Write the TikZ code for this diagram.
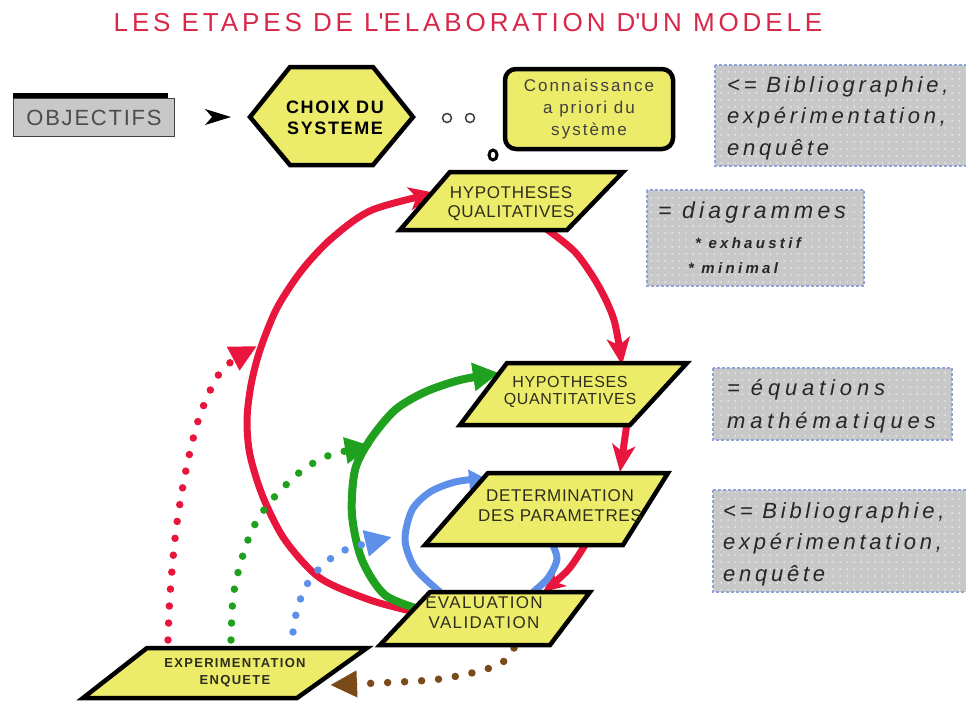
\documentclass[tikz,border=0pt]{standalone}
\usepackage{fontspec}
\setmainfont{Liberation Sans}
\usetikzlibrary{arrows.meta,patterns}
\definecolor{ttl}{HTML}{D8284A}
\definecolor{rline}{HTML}{E8163C}
\definecolor{gline}{HTML}{1FA01F}
\definecolor{bline}{HTML}{5E90EA}
\definecolor{brline}{HTML}{7A4A18}
\definecolor{ylw}{HTML}{ECEC6A}
\definecolor{gry}{HTML}{C8C8C8}
\definecolor{gbd}{HTML}{8DA3DA}
\definecolor{dtxt}{HTML}{2E2E1E}
\pgfdeclarepatternformonly{wdots}{\pgfqpoint{-1pt}{-1pt}}{\pgfqpoint{1pt}{1pt}}{\pgfqpoint{7pt}{7pt}}{\pgfpathcircle{\pgfpointorigin}{0.75pt}\pgfusepath{fill}}
\begin{document}
\begin{tikzpicture}[x=1pt,y=-1pt,
  para/.style={fill=ylw,draw=black,line width=4.5pt,line join=miter},
  ptext/.style={align=center,inner sep=0pt,text=dtxt},
  gbox/.style={preaction={fill=gry},preaction={pattern=wdots,pattern color=white},draw=gbd,line width=1.2pt,densely dashed},
  gtext/.style={anchor=base west,inner sep=0pt,text=black!85,font=\fontsize{22}{26}\selectfont\itshape\addfontfeatures{LetterSpace=17}},
  gsmall/.style={anchor=base west,inner sep=0pt,text=black!85,font=\fontsize{15}{16}\selectfont\bfseries\itshape\addfontfeatures{LetterSpace=22}},
  solidln/.style={line width=7pt},
  dotln/.style={line width=7.5pt,line cap=round,dash pattern=on 0pt off 17pt},
  dtip/.style={-{Triangle[length=27pt,width=25pt]}},
  stip/.style={-{Stealth[length=27pt,width=23pt,inset=7pt]}},
]
\useasboundingbox (0,0) rectangle (966,702);
\fill[white] (0,0) rectangle (966,702);

% title
\node[text=ttl,inner sep=0pt,font=\fontsize{26}{30}\selectfont\addfontfeatures{LetterSpace=15}] (title) at (468,23) {LES ETAPES DE L\textquotesingle ELABORATION D\textquotesingle UN MODELE};

% objectifs
\fill[black] (13,93) rectangle (168,99);
\node[draw=black!75,line width=1pt,fill=gry,minimum width=161pt,minimum height=38pt,inner sep=0pt,
      text=black!70,font=\fontsize{22}{26}\selectfont\addfontfeatures{LetterSpace=8}] (obj) at (94,117.5) {OBJECTIFS};
\fill[black] (205,109) -- (231,117) -- (205,125) -- (212,117) -- cycle;

% choix du systeme
\draw[para] (250,117) -- (290,67) -- (373,67) -- (413,117) -- (373,165) -- (290,165) -- cycle;
\node[ptext,text=black,font=\fontsize{18}{21}\selectfont\bfseries\addfontfeatures{LetterSpace=9}] (choix) at (335,118) {CHOIX DU\\SYSTEME};

% bubbles
\draw[line width=1.5pt,black!75] (447,118) circle (4.5pt);
\draw[line width=1.5pt,black!75] (470,118) circle (4.5pt);
\draw[line width=3pt,black] (493,155) ellipse (4pt and 5pt);

% connaissance
\node[draw=black,line width=4.5pt,rounded corners=11pt,fill=ylw,minimum width=168pt,minimum height=80pt,
      align=center,inner sep=0pt,text=black!75,font=\fontsize{17}{22}\selectfont\addfontfeatures{LetterSpace=12}] (conn) at (589,109) {Connaissance\\a priori du\\système};

% grey boxes
\draw[gbox] (715,65) rectangle (970,166);
\node[gtext] (g1a) at (727,92) {<= Bibliographie,};
\node[gtext] (g1b) at (727,123.5) {expérimentation,};
\node[gtext] (g1c) at (727,155) {enquête};

\draw[gbox] (647,190) rectangle (864,286);
\node[gtext,font=\fontsize{23}{26}\selectfont\itshape\addfontfeatures{LetterSpace=18}] (g2a) at (658,218) {= diagrammes};
\node[gsmall] (g2b) at (695,248) {* exhaustif};
\node[gsmall] (g2c) at (688,273) {* minimal};

\draw[gbox] (713,368) rectangle (952,440);
\node[gtext,font=\fontsize{22}{26}\selectfont\itshape\addfontfeatures{LetterSpace=22}] (g3a) at (727,395) {= équations};
\node[gtext,font=\fontsize{22}{26}\selectfont\itshape\addfontfeatures{LetterSpace=22}] (g3b) at (727,428) {mathématiques};

\draw[gbox] (713,490) rectangle (970,592);
\node[gtext] (g4a) at (723,518) {<= Bibliographie,};
\node[gtext] (g4b) at (723,549.5) {expérimentation,};
\node[gtext] (g4c) at (723,581) {enquête};

% endpoints
\coordinate (evW) at (415,612);
\coordinate (hqlW) at (436,193);
\coordinate (hqlS) at (545,228);
\coordinate (hqnN) at (622,365);
\coordinate (hqnS) at (627,423);
\coordinate (detN) at (620,472);
\coordinate (detS) at (585,545);
\coordinate (evN) at (543,592);
\coordinate (evG) at (422,610);
\coordinate (hqnW) at (499,373);
\coordinate (evB) at (440,592);
\coordinate (detW) at (485,478);
\coordinate (detSb) at (548,535);
\coordinate (evNb) at (533,592);
\coordinate (exR) at (168,640);
\coordinate (exG) at (231,640);
\coordinate (exB) at (293,632);
\coordinate (redT) at (257,346);
\coordinate (grnT) at (372,446);
\coordinate (bluT) at (392,537);
\coordinate (evS) at (514,648);
\coordinate (exE) at (330,685);

% connectors
\draw[solidln,rline,stip] plot[smooth] coordinates {(evW) (370,600) (320,578) (285,540) (263,497) (250,455) (247,420) (251,385) (260,350) (277,308) (302,270) (332,238) (372,210) (hqlW)};
\draw[solidln,rline,stip] plot[smooth] coordinates {(hqlS) (575,252) (598,285) (614,320) (hqnN)};
\draw[solidln,rline,stip] (hqnS) -- (detN);
\draw[solidln,rline,-{Stealth[length=22pt,width=20pt,inset=6pt]}] plot[smooth] coordinates {(detS) (568,570) (evN)};
\draw[line width=8pt,gline,-{Triangle[length=26pt,width=27pt]}] plot[smooth] coordinates {(evG) (385,595) (362,560) (352,515) (355,470) (370,440) (395,410) (425,392) (460,380) (hqnW)};
\draw[line width=7pt,bline,-{Triangle[length=16pt,width=19pt]}] plot[smooth] coordinates {(evB) (415,568) (405,540) (412,510) (430,492) (455,482) (detW)};
\draw[line width=7pt,bline] plot[smooth] coordinates {(detSb) (557,558) (548,578) (evNb)};
\draw[dotln,rline,dtip] plot[smooth] coordinates {(exR) (170,595) (176,530) (186,470) (200,415) (222,370) (redT)};
\draw[dotln,gline,dtip] plot[smooth] coordinates {(exG) (233,598) (240,565) (252,530) (270,502) (300,472) (330,455) (grnT)};
\draw[dotln,bline,dtip] plot[smooth] coordinates {(exB) (297,610) (306,586) (322,566) (345,550) (bluT)};
\draw[dotln,brline,dtip] plot[smooth] coordinates {(evS) (503,662) (480,671) (440,679) (400,682) (exE)};

% parallelograms
\draw[para] (400,230) -- (450,172) -- (623,172) -- (567,230) -- cycle;
\node[ptext,font=\fontsize{17}{19}\selectfont\addfontfeatures{LetterSpace=4}] (hql) at (511,204) {HYPOTHESES\\QUALITATIVES};

\draw[para] (460,425) -- (507,363) -- (687,363) -- (630,425) -- cycle;
\node[ptext,font=\fontsize{16}{17.5}\selectfont\addfontfeatures{LetterSpace=4}] (hqn) at (570,392) {HYPOTHESES\\QUANTITATIVES};

\draw[para] (425,545) -- (488,473) -- (668,473) -- (623,545) -- cycle;
\node[ptext,font=\fontsize{17}{20}\selectfont\addfontfeatures{LetterSpace=4}] (det) at (560,506) {DETERMINATION\\DES PARAMETRES};

\draw[para] (380,645) -- (430,592) -- (590,592) -- (550,645) -- cycle;
\node[ptext,font=\fontsize{17}{20}\selectfont\addfontfeatures{LetterSpace=8}] (ev) at (484,613) {EVALUATION\\VALIDATION};

\draw[para] (83,698) -- (147,648) -- (367,648) -- (297,698) -- cycle;
\node[ptext,font=\fontsize{13}{17}\selectfont\bfseries\addfontfeatures{LetterSpace=10}] (ex) at (235,673) {EXPERIMENTATION\\ENQUETE};
\end{tikzpicture}
\end{document}
